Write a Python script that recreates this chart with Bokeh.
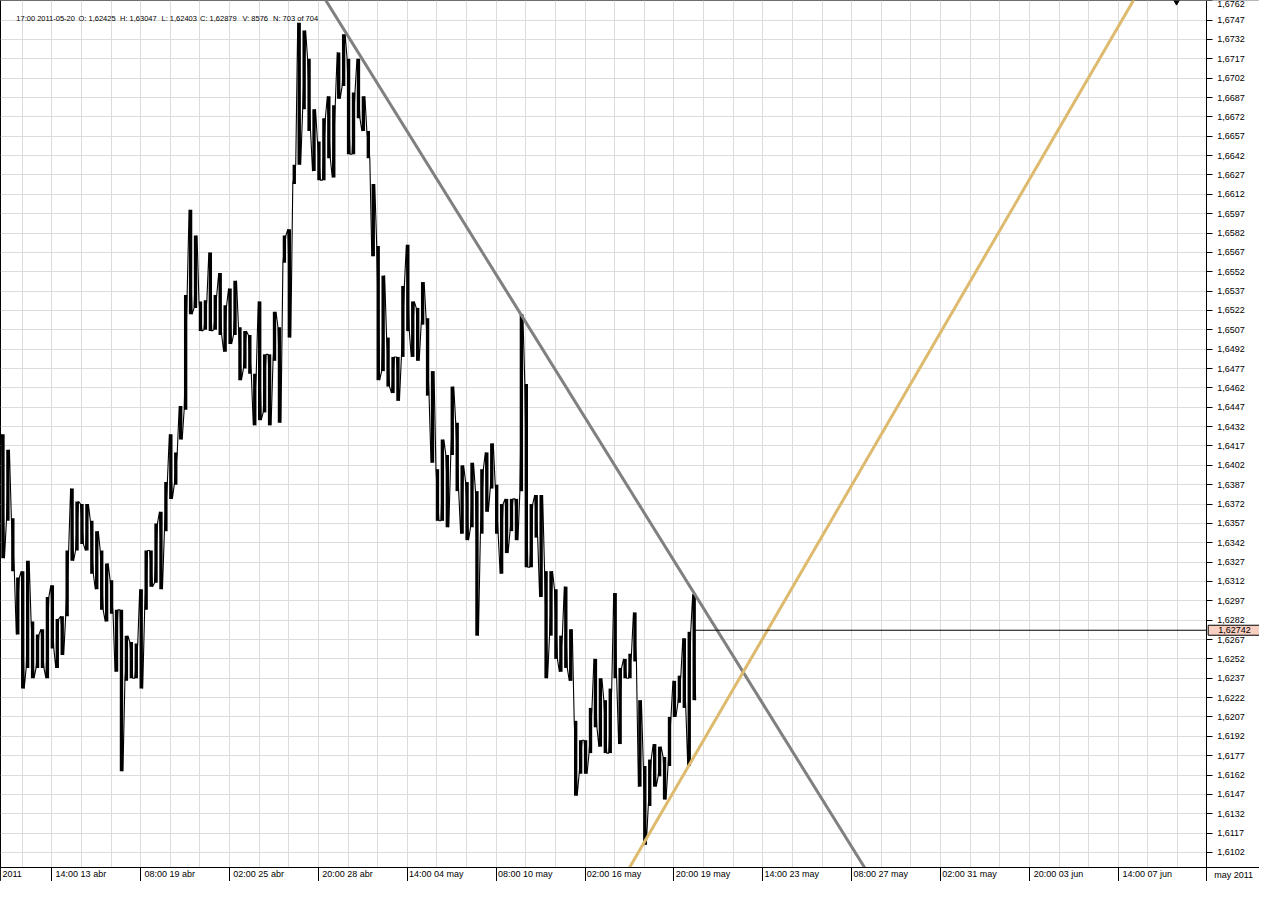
from bokeh.plotting import figure
from bokeh.models import Range1d, FixedTicker, CustomJSTickFormatter, Label
from bokeh.embed import file_html
from bokeh.resources import INLINE

# ---------------- data ----------------
# bar index of each 5-bar block (1 bar = 1 hour of trading)
bar_start = list(range(0, 705, 5))

block_high = [
    1.6426, 1.6414, 1.6361, 1.6315, 1.6320, 1.6328, 1.6281, 1.6271, 1.6275, 1.6300,
    1.6309, 1.6283, 1.6285, 1.6336, 1.6384, 1.6374, 1.6372, 1.6372, 1.6359, 1.6351,
    1.6336, 1.6326, 1.6313, 1.6290, 1.6290, 1.6270, 1.6265, 1.6264, 1.6306, 1.6336,
    1.6336, 1.6357, 1.6366, 1.6389, 1.6426, 1.6412, 1.6448, 1.6534, 1.6600, 1.6580,
    1.6529, 1.6530, 1.6567, 1.6534, 1.6551, 1.6526, 1.6539, 1.6545, 1.6509, 1.6506,
    1.6503, 1.6473, 1.6529, 1.6488, 1.6488, 1.6521, 1.6509, 1.6580, 1.6585, 1.6635,
    1.6745, 1.6739, 1.6717, 1.6678, 1.6653, 1.6671, 1.6688, 1.6681, 1.6722, 1.6736,
    1.6717, 1.6691, 1.6717, 1.6688, 1.6661, 1.6620, 1.6572, 1.6549, 1.6501, 1.6486,
    1.6486, 1.6541, 1.6573, 1.6529, 1.6524, 1.6544, 1.6516, 1.6475, 1.6399, 1.6422,
    1.6410, 1.6463, 1.6435, 1.6402, 1.6389, 1.6404, 1.6382, 1.6399, 1.6412, 1.6419,
    1.6387, 1.6372, 1.6376, 1.6376, 1.6376, 1.6519, 1.6465, 1.6372, 1.6379, 1.6379,
    1.6320, 1.6320, 1.6306, 1.6270, 1.6308, 1.6275, 1.6204, 1.6189, 1.6189, 1.6214,
    1.6252, 1.6237, 1.6220, 1.6229, 1.6303, 1.6245, 1.6252, 1.6256, 1.6288, 1.6220,
    1.6169, 1.6174, 1.6186, 1.6184, 1.6176, 1.6207, 1.6235, 1.6239, 1.6268, 1.6273,
    1.6302,
]
block_low = [
    1.6330, 1.6359, 1.6320, 1.6271, 1.6229, 1.6245, 1.6237, 1.6245, 1.6245, 1.6237,
    1.6260, 1.6245, 1.6255, 1.6285, 1.6328, 1.6336, 1.6341, 1.6336, 1.6318, 1.6306,
    1.6290, 1.6281, 1.6287, 1.6242, 1.6165, 1.6235, 1.6237, 1.6237, 1.6229, 1.6290,
    1.6308, 1.6311, 1.6306, 1.6351, 1.6376, 1.6387, 1.6422, 1.6445, 1.6519, 1.6524,
    1.6506, 1.6507, 1.6506, 1.6507, 1.6503, 1.6490, 1.6496, 1.6503, 1.6468, 1.6477,
    1.6473, 1.6433, 1.6437, 1.6443, 1.6433, 1.6483, 1.6435, 1.6559, 1.6501, 1.6620,
    1.6635, 1.6678, 1.6661, 1.6630, 1.6623, 1.6623, 1.6640, 1.6625, 1.6686, 1.6696,
    1.6643, 1.6643, 1.6671, 1.6661, 1.6640, 1.6564, 1.6468, 1.6475, 1.6463, 1.6458,
    1.6452, 1.6486, 1.6506, 1.6486, 1.6483, 1.6511, 1.6456, 1.6404, 1.6359, 1.6359,
    1.6354, 1.6410, 1.6382, 1.6349, 1.6344, 1.6354, 1.6270, 1.6349, 1.6366, 1.6384,
    1.6349, 1.6318, 1.6334, 1.6351, 1.6344, 1.6382, 1.6323, 1.6323, 1.6346, 1.6300,
    1.6237, 1.6270, 1.6252, 1.6242, 1.6245, 1.6235, 1.6146, 1.6163, 1.6163, 1.6179,
    1.6199, 1.6184, 1.6179, 1.6179, 1.6237, 1.6186, 1.6237, 1.6237, 1.6250, 1.6153,
    1.6108, 1.6138, 1.6153, 1.6161, 1.6143, 1.6169, 1.6207, 1.6218, 1.6214, 1.6169,
    1.6220,
]

header_parts = ["17:00 2011-05-20", "O: 1,62425", "H: 1,63047", "L: 1,62403",
                "C: 1,62879", "V: 8576", "N: 703 of 704"]
last_bar = 703
last_price = 1.62742
last_price_text = "1,62742"

# time-axis separators (bar index) and their labels
sep_bars = [0, 52, 142, 232, 322, 412, 502, 592, 682, 772, 862, 952, 1042, 1132]
sep_labels = ["2011", "14:00 13 abr", "08:00 19 abr", "02:00 25 abr", "20:00 28 abr",
              "14:00 04 may", "08:00 10 may", "02:00 16 may", "20:00 19 may",
              "14:00 23 may", "08:00 27 may", "02:00 31 may", "20:00 03 jun",
              "14:00 07 jun"]
corner_text = "may 2011"

# price ticks
y_tick_first = 1.6102
y_tick_step = 0.0015
y_tick_count = 45

# trend lines (two anchor points each)
gray_x = [324, 881]
gray_y = [1.6769, 1.6083]
gold_x = [630, 1154]
gold_y = [1.6081, 1.6771]

# marker at top right
arrow_x = [1191]
arrow_y = [1.6764]

# ---------------- layout constants ----------------
X_AXIS_AT = 1221          # bar index where the price axis sits
X_END = 1275              # right edge of the canvas in bar units
Y_MIN, Y_MAX = 1.60902, 1.67622   # plotted price span
Y_BAND = 1.60795          # bottom of the date band
FONT = "Liberation Sans"

p = figure(width=1259, height=881, x_range=Range1d(0, X_END), y_range=Range1d(Y_BAND, Y_MAX),
           y_axis_location="right", output_backend="svg", toolbar_location=None,
           min_border_left=0, min_border_top=0, min_border_right=0, min_border_bottom=0)
p.background_fill_color = "white"
p.border_fill_color = "white"
p.outline_line_color = "black"
p.outline_line_width = 1

# grids
y_ticks = [round(y_tick_first + i * y_tick_step, 4) for i in range(y_tick_count)]
p.ygrid.ticker = FixedTicker(ticks=y_ticks)
p.xgrid.ticker = FixedTicker(ticks=list(range(22, X_AXIS_AT, 30)))
p.grid.grid_line_color = "#DCDCDC"
p.grid.grid_line_width = 1

# right price axis, pinned at the edge of the chart area
ya = p.yaxis[0]
ya.fixed_location = X_AXIS_AT
ya.ticker = FixedTicker(ticks=y_ticks)
ya.formatter = CustomJSTickFormatter(code="return tick.toFixed(4).replace('.', ',');")
ya.axis_line_color = "black"
ya.major_tick_line_color = "black"
ya.major_tick_out = 6
ya.major_tick_in = 0
ya.minor_tick_line_color = None
ya.major_label_standoff = 5
ya.major_label_text_font = FONT
ya.major_label_text_font_size = "9px"
ya.major_label_text_color = "black"

# bottom time axis: separators as minor ticks, labels centred just right of each separator
label_ticks = [round(s + 3 + 2.2 * len(lab), 1) for s, lab in zip(sep_bars, sep_labels)]
xa = p.xaxis[0]
xa.fixed_location = Y_MIN
xa.ticker = FixedTicker(ticks=label_ticks, minor_ticks=sep_bars)
xa.major_label_overrides = {t: lab for t, lab in zip(label_ticks, sep_labels)}
xa.axis_line_color = "black"
xa.major_tick_out = 0
xa.major_tick_in = 0
xa.major_tick_line_color = None
xa.minor_tick_out = 14
xa.minor_tick_in = 0
xa.minor_tick_line_color = "black"
xa.minor_tick_line_width = 1
xa.major_label_standoff = -13
xa.major_label_text_font = FONT
xa.major_label_text_font_size = "9px"
xa.major_label_text_color = "black"

# price bars (high/low envelope of each 5-bar block with a jagged trace)
p.vbar(x=[b + 2.5 for b in bar_start], width=3.4, top=block_high, bottom=block_low,
       fill_color="black", line_color=None)
zx, zy = [], []
for i, (b, h, l) in enumerate(zip(bar_start, block_high, block_low)):
    a, c = (h, l) if i % 2 == 0 else (l, h)
    zx += [b + 1, b + 4]
    zy += [a, c]
p.line(zx, zy, line_color="black", line_width=1.1)

# trend lines
p.line(gray_x, gray_y, line_color="#808080", line_width=3)
p.line(gold_x, gold_y, line_color="#DDBA6E", line_width=3)

# last price line
p.line([last_bar, X_AXIS_AT], [last_price, last_price], line_color="black", line_width=1)

# marker
p.scatter(arrow_x, arrow_y, marker="inverted_triangle", size=12, color="black")

# white backing for the axis column and the date band
p.quad(left=[X_AXIS_AT, 0], right=[X_END + 5, X_END + 5],
       bottom=[Y_BAND - 0.001, Y_BAND - 0.001], top=[Y_MAX + 0.001, Y_MIN],
       fill_color="white", line_color=None)

# corner label and price box
p.add_layout(Label(x=X_AXIS_AT, y=(Y_BAND + Y_MIN) / 2, x_offset=8, text=corner_text,
                   text_font=FONT, text_font_size="9px", text_color="black",
                   text_baseline="middle", text_align="left"))
p.add_layout(Label(x=X_AXIS_AT, y=last_price, x_offset=2, text=last_price_text, text_font=FONT,
                   text_font_size="9px", text_color="black", text_baseline="middle",
                   text_align="left", background_fill_color="#F9CFC2",
                   border_line_color="black", padding=(10, 2)))

# header
header_x = [16, 79, 121, 163, 202, 245, 276]
for hx, part in zip(header_x, header_parts):
    p.add_layout(Label(x=hx, y=1.6748, text=part, text_font=FONT,
                       text_font_size="7.5px", text_color="black", text_baseline="alphabetic"))

open("out.html", "w").write(file_html(p, INLINE))
